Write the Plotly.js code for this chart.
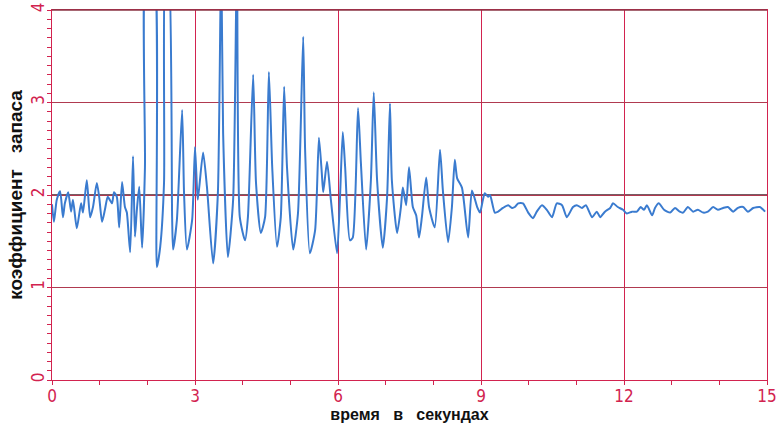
<!DOCTYPE html>
<html>
<head>
<meta charset="utf-8">
<script src="https://cdn.plot.ly/plotly-3.0.1.min.js"></script>
<style>
  html, body { margin: 0; padding: 0; background: #ffffff; }
  #chart { width: 779px; height: 430px; }
</style>
</head>
<body>
<div id="chart"></div>
<script>
// time, seconds
const timeSec = [
  0.00, 0.04, 0.10, 0.17, 0.23, 0.27, 0.34, 0.40, 0.44, 0.52, 0.61, 0.65, 0.73, 0.80, 0.86, 0.94, 0.99,
  1.05, 1.11, 1.17, 1.26, 1.30, 1.36, 1.41, 1.47, 1.53, 1.57, 1.64, 1.70, 1.74, 1.78, 1.83, 1.89, 1.95,
  1.99, 2.12, 2.20, 2.27, 2.35, 2.39, 2.43, 2.52, 2.54, 2.62, 2.73, 2.77, 2.83, 2.94,
  3.00, 3.04, 3.06, 3.17, 3.25, 3.38, 3.48, 3.55, 3.59, 3.69, 3.80, 3.88, 3.94,
  4.05, 4.11, 4.22, 4.28, 4.38, 4.47, 4.55, 4.62, 4.72, 4.80, 4.87, 4.93,
  5.06, 5.16, 5.27, 5.31, 5.41, 5.52, 5.60, 5.66, 5.69, 5.77, 5.85, 5.98,
  6.04, 6.10, 6.15, 6.25, 6.31, 6.42, 6.48, 6.59, 6.69, 6.75, 6.82, 6.94,
  7.03, 7.09, 7.13, 7.24, 7.32, 7.36, 7.43, 7.49, 7.57, 7.64, 7.70, 7.76, 7.85, 7.91,
  8.03, 8.14, 8.20, 8.31, 8.39, 8.45, 8.50, 8.60, 8.73, 8.81, 8.92, 8.98,
  9.04, 9.08, 9.15, 9.19, 9.29, 9.36, 9.46, 9.57, 9.65, 9.71, 9.78, 9.88, 9.99,
  10.09, 10.17, 10.28, 10.38, 10.49, 10.59, 10.70, 10.80, 10.93,
  11.01, 11.12, 11.20, 11.33, 11.43, 11.50, 11.60, 11.71, 11.77, 11.87, 11.98,
  12.06, 12.17, 12.27, 12.35, 12.42, 12.48, 12.59, 12.65, 12.73, 12.84, 12.97,
  13.07, 13.17, 13.24, 13.34, 13.45, 13.55, 13.66, 13.76, 13.87, 13.97,
  14.08, 14.18, 14.29, 14.39, 14.50, 14.60, 14.71, 14.85, 14.96
];
// safety factor (values above 4 run off the top of the chart)
const safetyFactor = [
  1.90, 1.71, 1.95, 2.04, 1.76, 1.91, 2.03, 1.82, 1.95, 1.64, 1.91, 1.81, 2.16, 1.76, 1.87, 2.13, 1.98,
  1.71, 1.84, 1.98, 1.91, 2.03, 1.98, 1.65, 2.14, 1.87, 1.81, 1.38, 2.42, 1.55, 1.84, 2.09, 1.43, 2.30,
  4.60, 4.60, 1.22, 1.44, 2.13, 4.60, 4.60, 1.76, 1.41, 1.73, 2.92, 2.02, 1.41, 1.73,
  2.52, 2.09, 1.95, 2.46, 2.09, 1.26, 2.02, 4.60, 2.67, 1.33, 1.95, 4.60, 1.76,
  1.51, 1.76, 3.30, 2.13, 1.59, 1.76, 3.33, 2.30, 1.44, 1.76, 3.17, 2.30,
  1.41, 1.80, 3.71, 2.49, 1.37, 1.62, 2.62, 2.24, 2.03, 2.36, 1.95, 1.37,
  1.95, 2.68, 2.30, 1.51, 1.54, 2.94, 2.35, 1.41, 2.16, 3.11, 2.16, 1.43,
  1.98, 2.99, 2.16, 1.59, 1.87, 2.08, 1.89, 2.30, 1.87, 1.78, 1.54, 1.76, 2.19, 1.87,
  1.65, 2.49, 2.05, 1.49, 1.87, 2.38, 2.18, 2.08, 1.54, 2.05, 1.87, 1.81,
  1.95, 2.02, 1.98, 2.00, 1.81, 1.82, 1.86, 1.89, 1.86, 1.87, 1.91, 1.91, 1.81,
  1.75, 1.82, 1.89, 1.84, 1.76, 1.91, 1.89, 1.76, 1.87,
  1.89, 1.86, 1.89, 1.76, 1.82, 1.76, 1.82, 1.86, 1.91, 1.87, 1.84,
  1.80, 1.82, 1.82, 1.87, 1.84, 1.89, 1.78, 1.86, 1.91, 1.84, 1.81,
  1.86, 1.82, 1.81, 1.87, 1.82, 1.84, 1.81, 1.82, 1.87, 1.84,
  1.86, 1.87, 1.82, 1.86, 1.87, 1.82, 1.86, 1.87, 1.82
];
const xTicks = [0, 3, 6, 9, 12, 15];
const xTickLabels = ['0', '3', '6', '9', '12', '15'];
const yTicks = [0, 1, 2, 3, 4];
const yTickLabels = ['0', '1', '2', '3', '4'];
const referenceLevel = 2;

const red = '#d2234f';
const darkGrid = '#8a3444';
const tickFont = { family: 'Liberation Sans Narrow, DejaVu Sans Condensed, sans-serif', size: 17, color: red };
const gap = '\u00a0\u00a0\u00a0';

const trace = {
  x: timeSec, y: safetyFactor, type: 'scatter', mode: 'lines',
  line: { color: '#3a7bcf', width: 2, shape: 'spline', smoothing: 0.6 },
  hoverinfo: 'skip'
};

const layout = {
  width: 779, height: 430,
  margin: { l: 52, r: 12, t: 10, b: 50 },
  paper_bgcolor: '#ffffff', plot_bgcolor: '#ffffff',
  showlegend: false,
  xaxis: {
    range: [0, 15], tickmode: 'array', tickvals: xTicks, ticktext: xTickLabels,
    showgrid: true, gridcolor: red, gridwidth: 1,
    showline: true, linecolor: red, linewidth: 1.3, mirror: true,
    ticks: '',
    minor: { dtick: 1, ticks: 'outside', ticklen: 4, tickcolor: red, showgrid: false },
    tickfont: tickFont, zeroline: false, automargin: false,
    title: { text: 'время' + gap + 'в' + gap + 'секундах',
             font: { family: 'Liberation Sans, Arial, sans-serif', size: 16, color: '#111111', weight: 'bold' },
             standoff: 2 }
  },
  yaxis: {
    range: [0, 4], tickmode: 'array', tickvals: yTicks, ticktext: yTickLabels,
    showgrid: true, gridcolor: '#b03a50', gridwidth: 1,
    showline: true, linecolor: red, linewidth: 1.3, mirror: true,
    ticks: '',
    minor: { dtick: 0.1, ticks: 'outside', ticklen: 4, tickcolor: red, showgrid: false },
    tickfont: tickFont, tickangle: -90, zeroline: false, automargin: false,
    title: { text: 'коэффициент' + gap + 'запаса',
             font: { family: 'Liberation Sans, Arial, sans-serif', size: 19, color: '#111111', weight: 'bold' },
             standoff: 0 }
  },
  shapes: [
    { type: 'line', xref: 'paper', x0: 0, x1: 1, yref: 'y', y0: referenceLevel, y1: referenceLevel,
      line: { color: '#4a2630', width: 1.3 }, layer: 'below' },
    { type: 'line', xref: 'paper', x0: 0, x1: 1, yref: 'paper', y0: 1, y1: 1,
      line: { color: darkGrid, width: 1.3 }, layer: 'above' }
  ]
};

Plotly.newPlot('chart', [trace], layout, { staticPlot: true, displayModeBar: false });
</script>
</body>
</html>
